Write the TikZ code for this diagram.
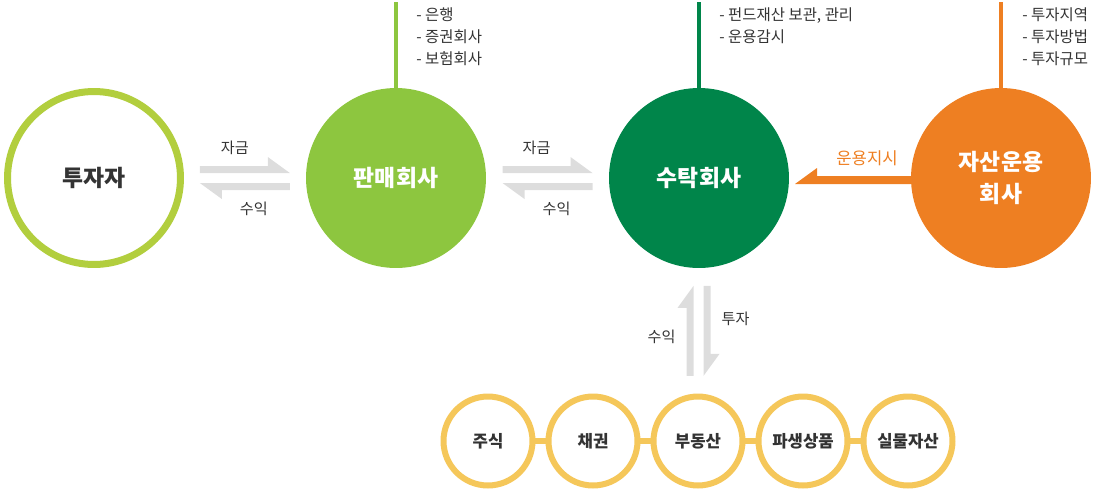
\documentclass[tikz,border=0pt]{standalone}
\usepackage{fontspec}
\setmainfont{Noto Sans CJK KR}
\usetikzlibrary{arrows.meta,calc}

\definecolor{ringgreen}{RGB}{178,206,62}
\definecolor{sellgreen}{RGB}{141,198,63}
\definecolor{trustgreen}{RGB}{0,133,74}
\definecolor{amcorange}{RGB}{238,127,34}
\definecolor{assetyellow}{RGB}{245,199,90}
\definecolor{flowgray}{RGB}{221,221,221}
\definecolor{textgray}{RGB}{51,51,51}

\tikzset{
  big/.style={circle,inner sep=0pt,minimum size=3.6cm,text=white,align=center,
    font=\fontsize{13}{18}\selectfont\bfseries},
  asset/.style={circle,inner sep=0pt,minimum size=1.78cm,draw=assetyellow,line width=0.12cm,
    fill=white,text=textgray,font=\fontsize{9.5}{11}\selectfont\bfseries},
  small/.style={text=textgray,inner sep=0pt,font=\fontsize{8.6}{10}\selectfont},
  list/.style={small,align=left,anchor=north west,font=\fontsize{8.8}{12.5}\selectfont},
  stem/.style={line width=0.08cm},
  link/.style={draw=assetyellow,line width=0.12cm},
  halfpair/.pic={
    \fill[flowgray] (-45,-5) -- (45,-5) -- (23,-21) -- (23,-12) -- (-45,-12) -- cycle;
    \fill[flowgray] (45,5) -- (-45,5) -- (-23,21) -- (-23,12) -- (45,12) -- cycle;
  }
}

\begin{document}
\begin{tikzpicture}[x=0.02cm,y=-0.02cm]
\useasboundingbox (0,0) rectangle (1100,488);

% main circles
\begin{scope}[every node/.style={big}]
    \node[draw=ringgreen,line width=0.14cm,minimum size=3.46cm,fill=white,text=textgray] (inv) at (94,178) {투자자};
    \node[fill=sellgreen] (sell) at (396,178) {판매회사};
    \node[fill=trustgreen] (trust) at (699,178) {수탁회사};
\end{scope}

% order arrow goes under the asset manager
\fill[amcorange] ([shift={(0,-2)}]1001,178) ++(-90,0) -- ++(-94,0) -- ++(0,-8) -- ++(-22,16) -- ++(116,0) -- cycle;
\node[big,fill=amcorange] (amc) at (1001,178) {자산운용\\회사};
\node[small,text=amcorange,font=\fontsize{9.5}{10}\selectfont] (order) at (867,158) {운용지시};

% stems and lists
\draw[stem,sellgreen] (sell.north) -- (sell.north |- 0,2);
\draw[stem,trustgreen] (trust.north) -- (trust.north |- 0,2);
\draw[stem,amcorange] (amc.north) -- (amc.north |- 0,2);
\node[list] (selllist) at (416,7) {- 은행\\- 증권회사\\- 보험회사};
\node[list] (trustlist) at (719,7) {- 펀드재산 보관, 관리\\- 운용감시};
\node[list] (amclist) at (1022,7) {- 투자지역\\- 투자방법\\- 투자규모};

% assets
\begin{scope}[every node/.style={asset}]
    \node (stock) at (488,441) {주식};
    \node (bond) at (593,441) {채권};
    \node (estate) at (698,441) {부동산};
    \node (deriv) at (803,441) {파생상품};
    \node (real) at (908,441) {실물자산};
\end{scope}

\begin{scope}
    \path[link] (stock) -- (bond);
    \path[link] (bond) -- (estate);
    \path[link] (estate) -- (deriv);
    \path[link] (deriv) -- (real);
\end{scope}

% money flows
\coordinate (m1) at ($(inv.east)!0.5!(sell.west)$);
\coordinate (m2) at ($(sell.east)!0.5!(trust.west)$);
\coordinate (m3) at ($(trust.south)!0.5!(estate.north)$);
\pic at (m1) {halfpair};
\pic at (m2) {halfpair};
\pic[rotate=90] at (m3) {halfpair};
\node[small] (fund1) at ([shift={(-10,-30)}]m1) {자금};
\node[small] (gain1) at ([shift={(9,31)}]m1) {수익};
\node[small] (fund2) at ([shift={(-11,-30)}]m2) {자금};
\node[small] (gain2) at ([shift={(9,31)}]m2) {수익};
\node[small] (gain3) at ([shift={(-37,6)}]m3) {수익};
\node[small] (invest) at ([shift={(37,-12)}]m3) {투자};
\end{tikzpicture}
\end{document}
